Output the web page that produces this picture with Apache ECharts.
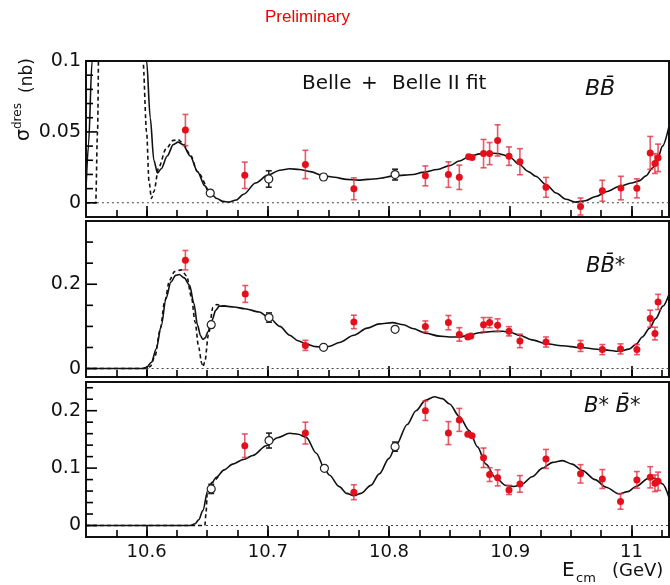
<!DOCTYPE html>
<html>
<head>
<meta charset="utf-8">
<script src="https://cdn.jsdelivr.net/npm/echarts@6/dist/echarts.min.js"></script>
<style>
html,body{margin:0;padding:0;background:#fff;}
#chart{width:670px;height:585px;}
</style>
</head>
<body>
<div id="chart"></div>
<script>
// ---------- tick values / labels ----------
const xTickValues = [10.575,10.6,10.625,10.65,10.675,10.7,10.725,10.75,10.775,10.8,10.825,10.85,10.875,10.9,10.925,10.95,10.975,11.0,11.025];
const xLabelValues = [10.6,10.7,10.8,10.9,11.0];
const y1TickValues = [0,0.01,0.02,0.03,0.04,0.05,0.06,0.07,0.08,0.09,0.1];
const y1LabelValues = [0,0.05,0.1];
const y2TickValues = [0,0.05,0.1,0.15,0.2,0.25,0.3];
const y2LabelValues = [0,0.2];
const y3TickValues = [0,0.02,0.04,0.06,0.08,0.1,0.12,0.14,0.16,0.18,0.2,0.22,0.24];
const y3LabelValues = [0,0.1,0.2];

// ---------- B Bbar panel: [E, sigma, error] ----------
const bbRed = [
  [10.632,0.0513,0.011],[10.681,0.0194,0.0093],[10.731,0.027,0.010],[10.771,0.0099,0.0077],
  [10.830,0.019,0.007],[10.849,0.0199,0.009],[10.858,0.018,0.0086],[10.8657,0.0324,0],
  [10.8685,0.0319,0],[10.878,0.0347,0.010],[10.883,0.0347,0.0078],[10.8896,0.044,0.011],
  [10.899,0.0329,0.0065],[10.908,0.029,0.0092],[10.9295,0.0109,0.007],[10.958,-0.0026,0.006],
  [10.976,0.0085,0.0074],[10.9913,0.0104,0.0083],[11.0045,0.0102,0.0067],[11.0155,0.0352,0.0116],
  [11.0194,0.0277,0.007],[11.022,0.0317,0.0097]
];
const bbBelle = [[10.6525,0.0069,0.002],[10.7008,0.0168,0.0058],[10.746,0.0182,0.002],[10.805,0.0199,0.0038]];
const bbFit = [
  [10.550,0.010],[10.552,0.040],[10.555,0.10],[10.558,0.16],[10.565,0.30],[10.580,0.50],[10.592,0.30],
  [10.597,0.15],[10.600,0.10],[10.603,0.06],[10.606,0.030],[10.609,0.021],[10.612,0.024],[10.617,0.033],
  [10.622,0.041],[10.626,0.0428],[10.630,0.041],[10.636,0.033],[10.642,0.022],[10.648,0.012],[10.6525,0.007],
  [10.658,0.003],[10.663,0.001],[10.668,0.0005],[10.674,0.002],[10.680,0.006],[10.690,0.014],[10.700,0.0195],
  [10.710,0.023],[10.718,0.024],[10.726,0.0235],[10.735,0.022],[10.746,0.019],[10.755,0.018],[10.765,0.0165],
  [10.775,0.016],[10.790,0.017],[10.805,0.019],[10.820,0.020],[10.8275,0.0215],[10.840,0.0235],[10.850,0.0262],
  [10.858,0.0295],[10.866,0.0325],[10.875,0.0345],[10.8828,0.0352],[10.890,0.0348],[10.8937,0.034],[10.900,0.032],
  [10.9075,0.027],[10.915,0.022],[10.921,0.0187],[10.930,0.0125],[10.9378,0.0069],[10.946,0.0025],[10.954,0.0005],
  [10.962,0.0015],[10.9707,0.0045],[10.980,0.008],[10.990,0.0116],[11.000,0.014],[11.0064,0.0155],[11.012,0.019],
  [11.0174,0.0246],[11.022,0.032],[11.0256,0.040],[11.031,0.054]
];
const bbFitAlt = [
  [10.550,0],[10.558,0],[10.5595,0.05],[10.561,0.15],[10.580,0.60],[10.594,0.15],[10.597,0.10],[10.600,0.05],
  [10.602,0.015],[10.604,0.003],[10.606,0.008],[10.610,0.025],[10.616,0.038],[10.622,0.044],[10.626,0.0445],
  [10.630,0.042],[10.636,0.034],[10.642,0.022],[10.650,0.009]
];
const bbZero = [[10.559,0],[11.031,0]];

// ---------- B Bbar* panel ----------
const bbsRed = [
  [10.632,0.257,0.023],[10.6814,0.177,0.020],[10.731,0.055,0.012],[10.771,0.1106,0.016],
  [10.830,0.100,0.013],[10.849,0.109,0.017],[10.858,0.081,0.016],[10.865,0.075,0],
  [10.8675,0.077,0],[10.878,0.104,0.017],[10.883,0.109,0.012],[10.8896,0.103,0.015],
  [10.899,0.0885,0.011],[10.908,0.0655,0.016],[10.9295,0.063,0.012],[10.958,0.0536,0.013],
  [10.976,0.045,0.012],[10.991,0.0466,0.012],[11.0045,0.045,0.012],[11.0155,0.1185,0.020],
  [11.0194,0.083,0.015],[11.022,0.158,0.018]
];
const bbsBelle = [[10.6533,0.104,0.007],[10.701,0.121,0.011],[10.746,0.0505,0.003],[10.805,0.093,0]];
const bbsFit = [
  [10.550,0],[10.596,0],[10.600,0.003],[10.604,0.015],[10.608,0.047],[10.612,0.10],[10.616,0.166],[10.620,0.205],
  [10.624,0.221],[10.627,0.223],[10.631,0.215],[10.6355,0.1975],[10.639,0.155],[10.642,0.103],[10.6445,0.078],
  [10.6464,0.0695],[10.6485,0.073],[10.6505,0.087],[10.654,0.115],[10.657,0.138],[10.660,0.148],[10.665,0.148],
  [10.672,0.146],[10.681,0.142],[10.693,0.134],[10.701,0.121],[10.710,0.100],[10.718,0.079],[10.725,0.066],
  [10.7317,0.058],[10.740,0.052],[10.746,0.0505],[10.751,0.053],[10.759,0.062],[10.771,0.079],[10.782,0.096],
  [10.792,0.106],[10.803,0.109],[10.812,0.104],[10.8195,0.095],[10.830,0.084],[10.8415,0.077],[10.850,0.075],
  [10.858,0.075],[10.866,0.079],[10.8745,0.085],[10.885,0.088],[10.894,0.0885],[10.900,0.086],[10.9075,0.079],
  [10.918,0.068],[10.9295,0.059],[10.943,0.054],[10.957,0.050],[10.975,0.045],[10.990,0.041],[10.998,0.046],
  [11.004,0.058],[11.009,0.075],[11.015,0.096],[11.020,0.1185],[11.026,0.148],[11.031,0.176]
];
const bbsFitAlt = [
  [10.550,0],[10.599,0],[10.603,0.005],[10.607,0.030],[10.611,0.090],[10.615,0.160],[10.619,0.210],[10.623,0.230],
  [10.6286,0.234],[10.633,0.220],[10.637,0.170],[10.640,0.110],[10.643,0.050],[10.6455,0.012],[10.6464,0.004],
  [10.648,0.015],[10.651,0.080],[10.6547,0.145],[10.658,0.152],[10.662,0.149],[10.668,0.147]
];
const bbsZero = [[10.600,0],[11.031,0]];

// ---------- B* Bbar* panel ----------
const bsbsRed = [
  [10.681,0.139,0.0205],[10.731,0.161,0.019],[10.771,0.058,0.013],[10.830,0.200,0.017],
  [10.849,0.161,0.020],[10.858,0.184,0.020],[10.865,0.159,0],[10.8685,0.1565,0],
  [10.878,0.118,0.017],[10.883,0.0887,0.012],[10.8896,0.083,0.014],[10.899,0.062,0.008],
  [10.908,0.0725,0.0145],[10.9295,0.116,0.0165],[10.958,0.090,0.016],[10.976,0.081,0.0165],
  [10.991,0.042,0.0136],[11.0045,0.0795,0.0145],[11.0155,0.084,0.0185],[11.0194,0.0736,0.0145],
  [11.022,0.077,0.016]
];
const bsbsBelle = [[10.6533,0.0638,0.008],[10.701,0.148,0.013],[10.7467,0.0997,0.002],[10.805,0.1374,0.008]];
const bsbsFit = [
  [10.550,0],[10.636,0],[10.640,0.003],[10.643,0.010],[10.6464,0.026],[10.6505,0.061],[10.654,0.075],[10.6575,0.084],
  [10.664,0.097],[10.671,0.107],[10.680,0.115],[10.6877,0.122],[10.6987,0.139],[10.708,0.153],[10.718,0.1606],
  [10.725,0.159],[10.7317,0.1536],[10.740,0.126],[10.7467,0.0997],[10.7507,0.088],[10.759,0.0678],[10.765,0.056],
  [10.771,0.052],[10.777,0.056],[10.785,0.070],[10.792,0.090],[10.800,0.117],[10.8059,0.140],[10.815,0.176],
  [10.8223,0.200],[10.830,0.218],[10.8374,0.2243],[10.844,0.221],[10.850,0.2116],[10.858,0.190],[10.8663,0.165],
  [10.873,0.137],[10.880,0.107],[10.888,0.083],[10.8965,0.0696],[10.903,0.068],[10.910,0.0725],[10.918,0.085],
  [10.9267,0.100],[10.935,0.110],[10.9432,0.113],[10.951,0.107],[10.9597,0.0957],[10.970,0.080],[10.979,0.0667],
  [10.990,0.055],[10.997,0.059],[11.0037,0.068],[11.0147,0.083],[11.020,0.082],[11.0256,0.0725],[11.031,0.049]
];
const bsbsFitAlt = [[10.550,0],[10.648,0],[10.649,0.020],[10.650,0.055],[10.6505,0.061],[10.654,0.075],[10.660,0.088]];
const bsbsZero = [[10.649,0],[11.031,0]];

// ---------- styling helpers ----------
const RED = '#e3101c';
const RED_ERR = 'rgba(226,50,70,0.8)';
const FONT = 'DejaVu Sans';
const X_MIN = 10.55;

function errRender(color) {
  return function (params, api) {
    const x = api.value(0), v = api.value(1), e = api.value(2);
    const lo = api.coord([x, v - e]);
    const hi = api.coord([x, v + e]);
    const cap = 3;
    const st = { stroke: color, lineWidth: 1.6 };
    const ch = [{ type: 'line', shape: { x1: lo[0], y1: lo[1], x2: hi[0], y2: hi[1] }, style: st }];
    if (e > 0) {
      ch.push({ type: 'line', shape: { x1: lo[0] - cap, y1: lo[1], x2: lo[0] + cap, y2: lo[1] }, style: st });
      ch.push({ type: 'line', shape: { x1: hi[0] - cap, y1: hi[1], x2: hi[0] + cap, y2: hi[1] }, style: st });
    }
    return { type: 'group', children: ch };
  };
}

// y-axis ticks (inside, at the left frame), drawn through the axis scale
function yTickRender(params, api) {
  const v = api.value(1), len = api.value(2);
  const p = api.coord([X_MIN, v]);
  return { type: 'line', shape: { x1: p[0], y1: p[1], x2: p[0] + len, y2: p[1] }, style: { stroke: '#000', lineWidth: 1.6 } };
}

function panelSeries(idx, red, belle, fit, fitAlt, zero, ticks, labels) {
  const tickData = ticks.map(v => [X_MIN, v, labels.indexOf(v) >= 0 ? 11 : 7]);
  return [
    { type: 'custom', xAxisIndex: idx, yAxisIndex: idx, data: tickData, renderItem: yTickRender, encode: { x: 0, y: 1 }, z: 6, silent: true, clip: false },
    { type: 'line', xAxisIndex: idx, yAxisIndex: idx, data: zero, symbol: 'none', silent: true, z: 1,
      lineStyle: { color: '#444', width: 1.1, type: [2, 3] } },
    { type: 'line', xAxisIndex: idx, yAxisIndex: idx, data: fitAlt, symbol: 'none', smooth: 0.3, smoothMonotone: 'x', z: 2,
      lineStyle: { color: '#111', width: 1.6, type: [4, 3] } },
    { type: 'line', xAxisIndex: idx, yAxisIndex: idx, data: fit, symbol: 'none', smooth: 0.3, smoothMonotone: 'x', z: 3,
      lineStyle: { color: '#111', width: 1.6 } },
    { type: 'custom', xAxisIndex: idx, yAxisIndex: idx, data: red, renderItem: errRender(RED_ERR), encode: { x: 0, y: 1 }, z: 4 },
    { type: 'custom', xAxisIndex: idx, yAxisIndex: idx, data: belle, renderItem: errRender('#222'), encode: { x: 0, y: 1 }, z: 4 },
    { type: 'scatter', xAxisIndex: idx, yAxisIndex: idx, data: red.map(d => [d[0], d[1]]), symbol: 'circle', symbolSize: 7, z: 5,
      itemStyle: { color: RED, opacity: 1 } },
    { type: 'scatter', xAxisIndex: idx, yAxisIndex: idx, data: belle.map(d => [d[0], d[1]]), symbol: 'circle', symbolSize: 8, z: 5,
      itemStyle: { color: '#fff', borderColor: '#222', borderWidth: 1.2, opacity: 1 } }
  ];
}

function xAxisDef(idx, showLabels, ticks, len) {
  return {
    type: 'value', gridIndex: idx, min: X_MIN, max: 11.031, position: 'bottom',
    axisLine: { show: false, onZero: false },
    splitLine: { show: false },
    axisTick: { show: true, inside: true, length: len, customValues: ticks, lineStyle: { color: '#000', width: 1.6 } },
    axisLabel: {
      show: showLabels, customValues: xLabelValues, margin: 6,
      fontFamily: FONT, fontSize: 18, color: '#111',
      formatter: v => String(Math.round(v * 10) / 10)
    }
  };
}

function yAxisDef(idx, min, max, labels) {
  return {
    type: 'value', gridIndex: idx, min: min, max: max, position: 'left',
    axisLine: { show: false, onZero: false },
    splitLine: { show: false },
    axisTick: { show: false },
    axisLabel: {
      customValues: labels, margin: 5,
      fontFamily: FONT, fontSize: 19, color: '#111',
      formatter: v => String(Math.round(v * 1000) / 1000)
    }
  };
}

const chart = echarts.init(document.getElementById('chart'), null, { renderer: 'canvas' });

const gridCommon = { left: 86, width: 583, show: true, borderColor: '#111', borderWidth: 2, backgroundColor: 'transparent' };

chart.setOption({
  animation: false,
  backgroundColor: '#fff',
  grid: [
    Object.assign({ top: 61, height: 156 }, gridCommon),
    Object.assign({ top: 221, height: 156 }, gridCommon),
    Object.assign({ top: 382, height: 155 }, gridCommon)
  ],
  xAxis: [
    xAxisDef(0, false, xTickValues, 7), xAxisDef(1, false, xTickValues, 7), xAxisDef(2, true, xTickValues, 7),
    xAxisDef(0, false, xLabelValues, 11), xAxisDef(1, false, xLabelValues, 11), xAxisDef(2, false, xLabelValues, 11)
  ],
  yAxis: [
    yAxisDef(0, -0.01, 0.1, y1LabelValues),
    yAxisDef(1, -0.02, 0.35, y2LabelValues),
    yAxisDef(2, -0.02, 0.25, y3LabelValues)
  ],
  series: [].concat(
    panelSeries(0, bbRed, bbBelle, bbFit, bbFitAlt, bbZero, y1TickValues, y1LabelValues),
    panelSeries(1, bbsRed, bbsBelle, bbsFit, bbsFitAlt, bbsZero, y2TickValues, y2LabelValues),
    panelSeries(2, bsbsRed, bsbsBelle, bsbsFit, bsbsFitAlt, bsbsZero, y3TickValues, y3LabelValues)
  ),
  graphic: [
    { type: 'text', x: 265, y: 9, style: { text: 'Preliminary', fill: '#f00000', font: '17px "Liberation Sans"' } },
    { type: 'text', x: 302, y: 74, style: { text: 'Belle', fill: '#111', font: '20px "DejaVu Sans"' } },
    { type: 'text', x: 361, y: 74, style: { text: '+', fill: '#111', font: '20px "DejaVu Sans"' } },
    { type: 'text', x: 392, y: 74, style: { text: 'Belle II fit', fill: '#111', font: '20px "DejaVu Sans"' } },
    { type: 'text', x: 585, y: 78, style: { text: 'BB\u0304', fill: '#111', font: 'italic 22px "DejaVu Sans"' } },
    { type: 'text', x: 586, y: 256, style: { text: 'BB\u0304*', fill: '#111', font: 'italic 21px "DejaVu Sans"' } },
    { type: 'text', x: 584, y: 396, style: { text: 'B* B\u0304*', fill: '#111', font: 'italic 21px "DejaVu Sans"' } },
    // x-axis title
    { type: 'text', x: 562, y: 561, style: { text: 'E', fill: '#111', font: '20px "DejaVu Sans"' } },
    { type: 'text', x: 576, y: 572, style: { text: 'cm', fill: '#111', font: '13px "DejaVu Sans"' } },
    { type: 'text', x: 612, y: 562, style: { text: '(GeV)', fill: '#111', font: '18px "DejaVu Sans"' } },
    // y-axis title, rotated
    {
      type: 'group', x: 34, y: 141, rotation: Math.PI / 2,
      children: [
        { type: 'text', x: 0, y: 0, style: { text: '\u03c3', fill: '#111', font: '19px "DejaVu Sans"', verticalAlign: 'bottom' } },
        { type: 'text', x: 12, y: -10, style: { text: 'dres', fill: '#111', font: '12px "DejaVu Sans"', verticalAlign: 'bottom' } },
        { type: 'text', x: 48, y: 2, style: { text: '(nb)', fill: '#111', font: '17px "DejaVu Sans"', verticalAlign: 'bottom' } }
      ]
    }
  ]
});
</script>
</body>
</html>
